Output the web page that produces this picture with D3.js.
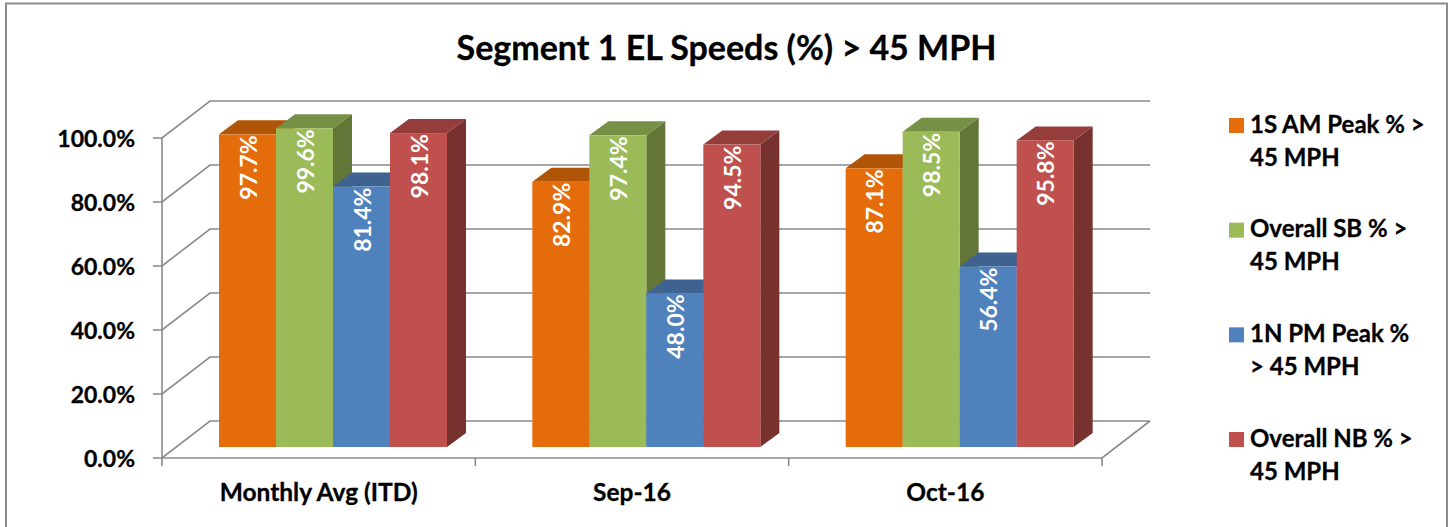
<!DOCTYPE html>
<html><head><meta charset="utf-8">
<script src="https://cdnjs.cloudflare.com/ajax/libs/d3/7.8.5/d3.min.js"></script>
<style>html,body{margin:0;padding:0;background:#fff}svg{display:block}text{font-family:Lato,"Open Sans",sans-serif;font-weight:700}.k{stroke:#000;stroke-width:.3px}</style>
</head><body><svg id="c" width="1450" height="527"></svg>
<script>
const chartTitle = "Segment 1 EL Speeds (%) > 45 MPH";
const categories = ["Monthly Avg (ITD)", "Sep-16", "Oct-16"];
const seriesNames = ["1S AM Peak %", "Overall SB %", "1N PM Peak %", "Overall NB %"];
const legendLines = [["1S AM Peak % >", "45 MPH"], ["Overall SB % >", "45 MPH"], ["1N PM Peak %", "> 45 MPH"], ["Overall NB % >", "45 MPH"]];
const am1S = [97.7, 82.9, 87.1];
const overallSB = [99.6, 97.4, 98.5];
const pm1N = [81.4, 48.0, 56.4];
const overallNB = [98.1, 94.5, 95.8];
const yTicks = [0, 20, 40, 60, 80, 100];
const frontColors = ["#E46C0A", "#9BBB59", "#4F81BD", "#C0504D"];
const topColors = ["#B05408", "#769045", "#3E6390", "#953D3B"];
const sideColors = ["#8F4506", "#637638", "#2F4B6E", "#77312F"];

const seriesValues = [am1S, overallSB, pm1N, overallNB];
const svg = d3.select("#c");
const axisCol = "#8A8A8A";

// frame
svg.append("path").attr("d", "M6,527V3.5H1447V527").attr("fill", "none").attr("stroke", "#8C8C8C").attr("stroke-width", 2);

// title
svg.append("text").attr("class", "k").attr("x", 726.5).attr("y", 60).attr("text-anchor", "middle").attr("font-size", 34).attr("fill", "#000").text(chartTitle);

// scales
const x0 = d3.scaleBand().domain(categories).range([162, 1102]);
const xS = d3.scaleBand().domain(seriesNames).range([0, 228]);
const yAxisScale = d3.scaleLinear().domain([0, 100]).range([458, 138]);
const yBar = d3.scaleLinear().domain([0, 100]).range([447, 127]);
const wall = {dx: 48, dy: -37};
const bar = {dx: 19, dy: -14};
const groupPad = 57;

// walls
const g = svg.append("g").attr("fill", "none").attr("stroke", axisCol).attr("stroke-width", 1.6);
yTicks.forEach(t => {
  const y = yAxisScale(t);
  g.append("path").attr("d", `M153,${y}H162L${162 + wall.dx},${y + wall.dy}H${1102 + wall.dx}`);
});
g.append("path").attr("d", `M162,${yAxisScale(100)}V466`);
g.append("path").attr("d", `M162,458H1102L${1102 + wall.dx},${458 + wall.dy}`);
x0.domain().forEach(c => {
  const r = x0(c) + x0.bandwidth();
  g.append("path").attr("d", `M${r},458V466`);
});

// bars
const barsG = svg.append("g");
const labelsG = svg.append("g");
const barW = xS.bandwidth();
categories.forEach((c, ci) => {
  seriesNames.forEach((s, si) => {
    const v = seriesValues[si][ci];
    const xl = x0(c) + groupPad + xS(s), xr = xl + barW;
    const yt = yBar(v), yb = yBar(0);
    const b = barsG.append("g");
    b.append("polygon").attr("fill", sideColors[si])
      .attr("points", [[xr, yb], [xr, yt], [xr + bar.dx, yt + bar.dy], [xr + bar.dx, yb + bar.dy]].join(" "));
    b.append("polygon").attr("fill", topColors[si])
      .attr("points", [[xl, yt], [xl + bar.dx, yt + bar.dy], [xr + bar.dx, yt + bar.dy], [xr, yt]].join(" "));
    b.append("rect").attr("x", xl).attr("y", yt).attr("width", barW).attr("height", yb - yt).attr("fill", frontColors[si]);
    labelsG.append("text")
      .attr("transform", `translate(${xl + barW / 2 + 1},${yt + 1}) rotate(-90)`)
      .attr("text-anchor", "end").attr("dy", "0.36em")
      .attr("font-size", 23).attr("fill", "#fff")
      .text(v.toFixed(1) + "%");
  });
});

// y labels
svg.append("g").selectAll("text").data(yTicks).join("text").attr("class", "k")
  .attr("x", 135).attr("y", d => yAxisScale(d) + 8.5).attr("text-anchor", "end")
  .attr("font-size", 23).attr("fill", "#000").text(d => d.toFixed(1) + "%");

// x labels
svg.append("g").selectAll("text").data(categories).join("text").attr("class", "k")
  .attr("x", d => x0(d) + x0.bandwidth() / 2).attr("y", 501).attr("text-anchor", "middle")
  .attr("font-size", 24.5).attr("fill", "#000").text(d => d);

// legend
const legendY = d3.scalePoint().domain(seriesNames).range([118, 432]);
seriesNames.forEach((s, i) => {
  const y = legendY(s);
  svg.append("rect").attr("x", 1229).attr("y", y).attr("width", 15).attr("height", 15).attr("fill", frontColors[i]);
  legendLines[i].forEach((l, j) => {
    svg.append("text").attr("class", "k").attr("x", 1250).attr("y", y + 14.5 + j * 33).attr("font-size", 24).attr("fill", "#000").text(l);
  });
});
</script></body></html>
